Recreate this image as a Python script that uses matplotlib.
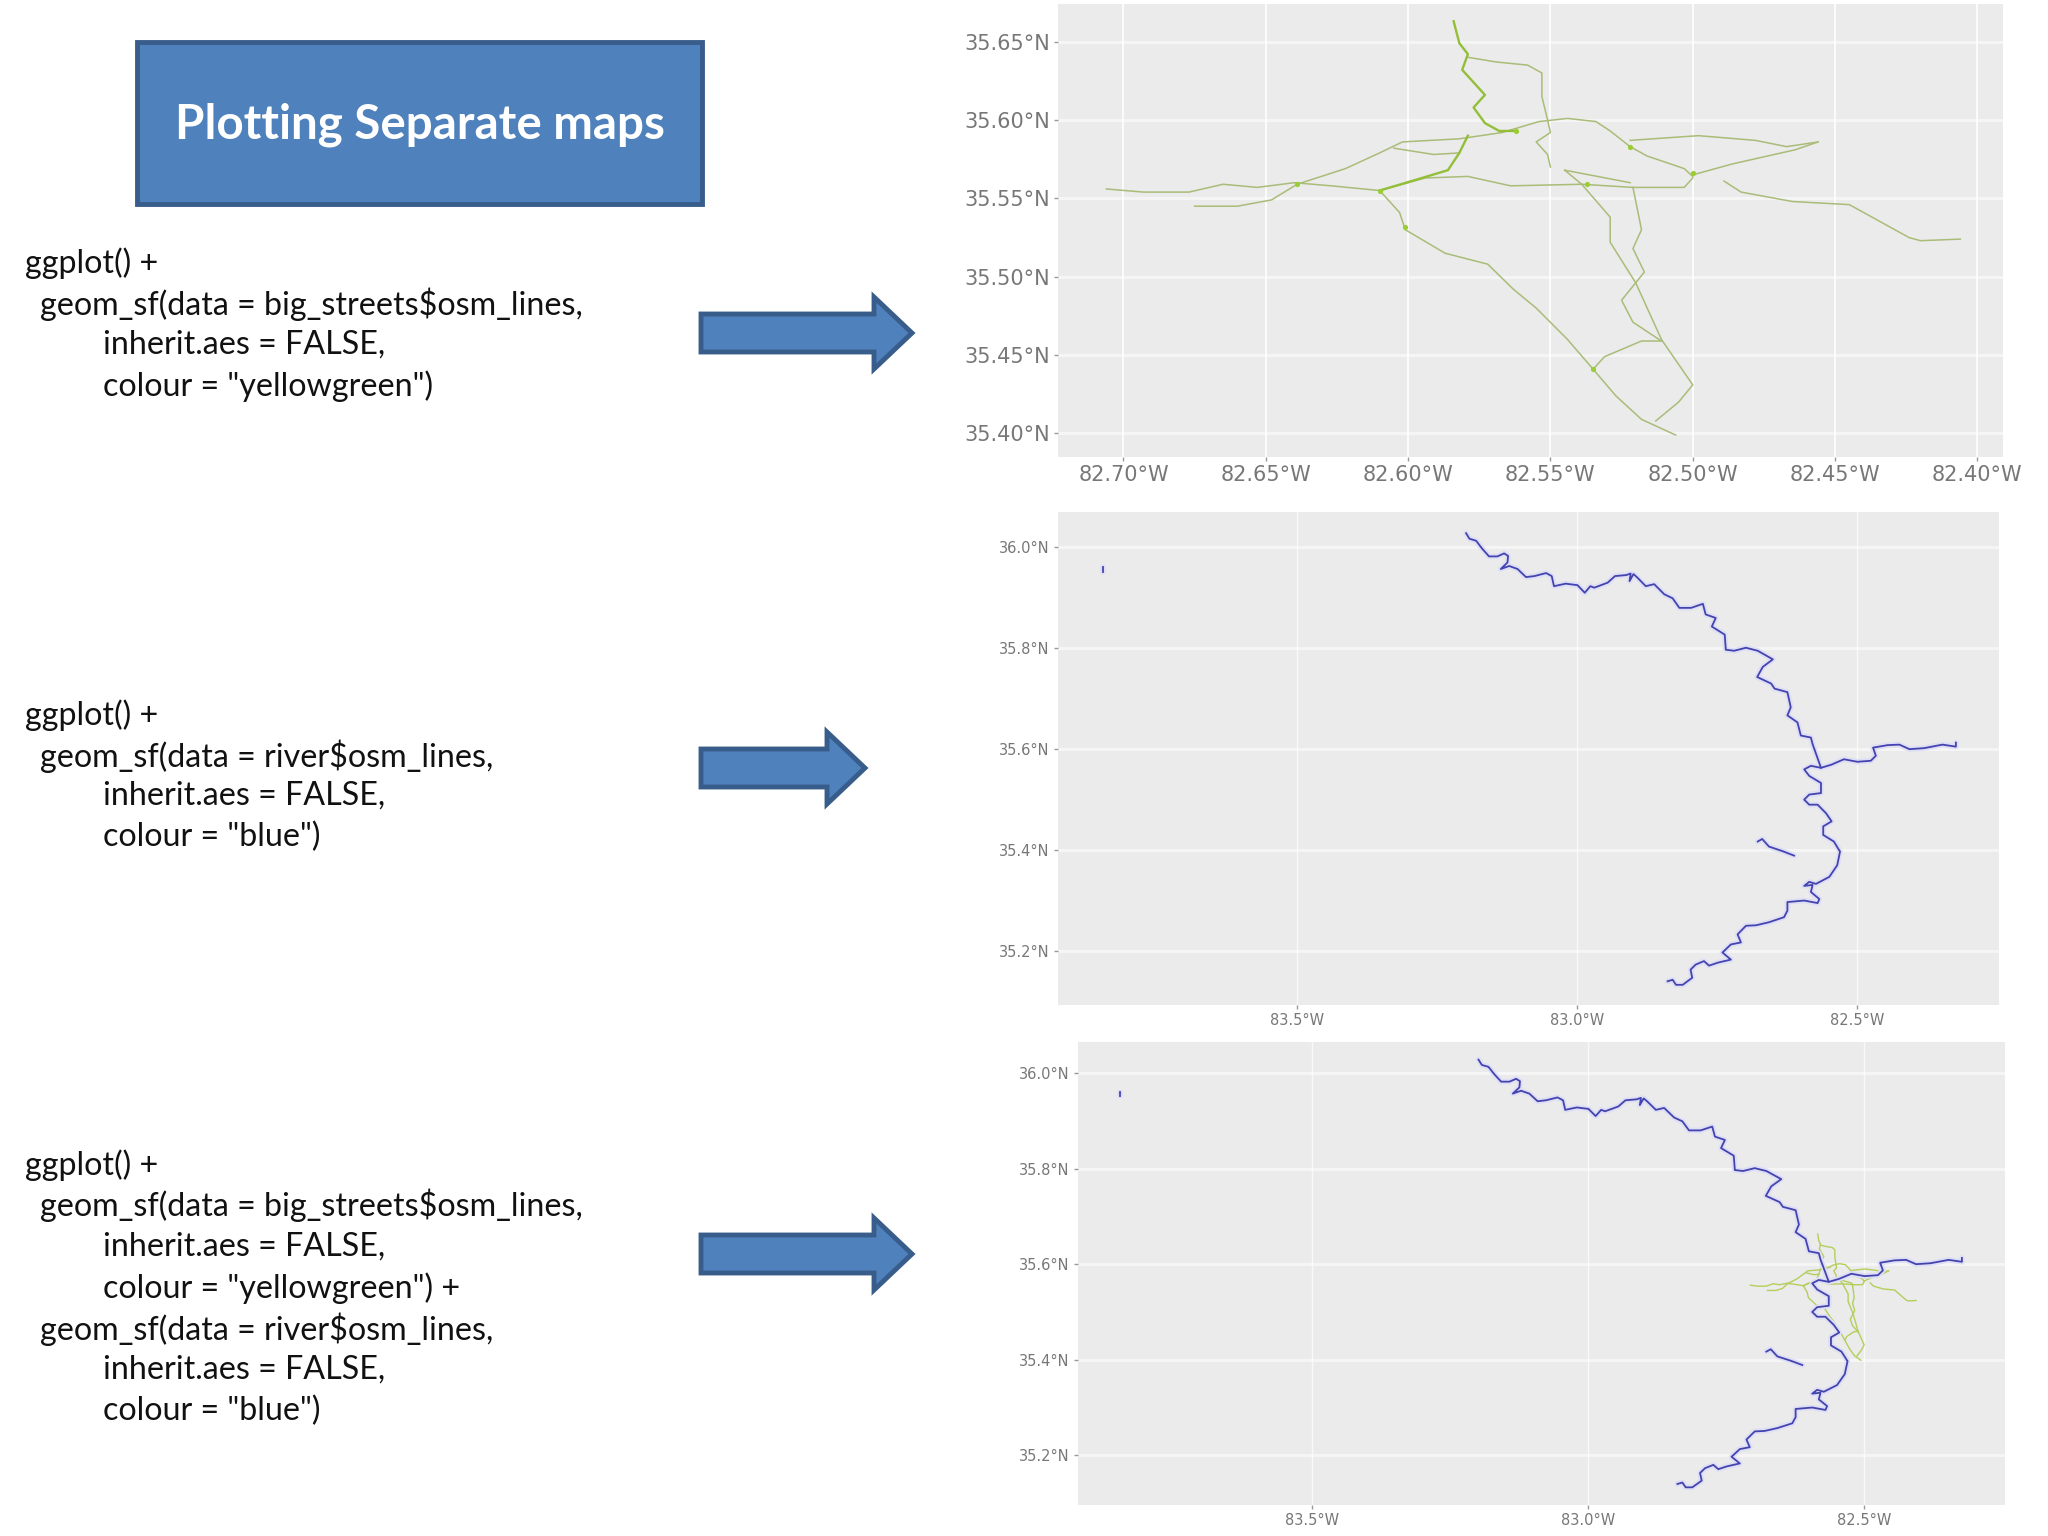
import matplotlib
matplotlib.use("Agg")
import matplotlib.pyplot as plt
from matplotlib.patches import Polygon, Rectangle

# Streets, one lon list and one lat list per road
north_lon = [-82.584, -82.582, -82.579, -82.581, -82.577, -82.573, -82.577, -82.573, -82.568, -82.562]
north_lat = [35.663, 35.649, 35.642, 35.632, 35.624, 35.616, 35.608, 35.598, 35.593, 35.593]
branch_lon = [-82.579, -82.569, -82.558, -82.553, -82.553, -82.551, -82.550, -82.555, -82.551, -82.550]
branch_lat = [35.640, 35.637, 35.635, 35.630, 35.615, 35.600, 35.592, 35.586, 35.578, 35.570]
upper_lon = [-82.639, -82.622, -82.610, -82.602, -82.582, -82.567, -82.554, -82.544, -82.534, -82.529, -82.522, -82.516, -82.503, -82.500]
upper_lat = [35.559, 35.569, 35.579, 35.586, 35.588, 35.592, 35.599, 35.601, 35.599, 35.593, 35.583, 35.577, 35.569, 35.564]
east_lon = [-82.522, -82.498, -82.478, -82.467, -82.456]
east_lat = [35.587, 35.590, 35.587, 35.583, 35.586]
east2_lon = [-82.500, -82.486, -82.464, -82.456]
east2_lat = [35.565, 35.572, 35.581, 35.586]
main_lon = [-82.706, -82.693, -82.677, -82.665, -82.653, -82.640, -82.627, -82.610, -82.594, -82.579, -82.569, -82.564, -82.539, -82.521, -82.503, -82.500]
main_lat = [35.556, 35.554, 35.554, 35.559, 35.557, 35.560, 35.558, 35.555, 35.563, 35.564, 35.560, 35.558, 35.559, 35.557, 35.557, 35.563]
west_lon = [-82.675, -82.660, -82.648, -82.639]
west_lat = [35.545, 35.545, 35.549, 35.559]
south_lon = [-82.610, -82.603, -82.601, -82.587, -82.572, -82.563, -82.555, -82.544, -82.535, -82.527, -82.518, -82.506]
south_lat = [35.555, 35.541, 35.530, 35.515, 35.508, 35.492, 35.480, 35.460, 35.441, 35.424, 35.409, 35.399]
link_lon = [-82.610, -82.597, -82.586, -82.582, -82.579]
link_lat = [35.555, 35.562, 35.568, 35.579, 35.590]
link2_lon = [-82.605, -82.591, -82.582]
link2_lat = [35.582, 35.578, 35.579]
inner_lon = [-82.545, -82.539, -82.529, -82.529, -82.520, -82.511, -82.500, -82.505, -82.513]
inner_lat = [35.568, 35.559, 35.538, 35.522, 35.496, 35.460, 35.431, 35.420, 35.408]
inner2_lon = [-82.521, -82.518, -82.521, -82.517, -82.525, -82.521, -82.511]
inner2_lat = [35.557, 35.530, 35.518, 35.503, 35.485, 35.471, 35.459]
short_lon = [-82.545, -82.522]
short_lat = [35.568, 35.560]
cross_lon = [-82.535, -82.531, -82.518, -82.511]
cross_lat = [35.441, 35.449, 35.459, 35.459]
far_lon = [-82.489, -82.483, -82.465, -82.445, -82.424, -82.420, -82.406]
far_lat = [35.561, 35.554, 35.548, 35.546, 35.525, 35.523, 35.524]
streets = [
    (branch_lon, branch_lat), (upper_lon, upper_lat),
    (east_lon, east_lat), (east2_lon, east2_lat), (main_lon, main_lat),
    (west_lon, west_lat), (south_lon, south_lat),
    (link2_lon, link2_lat), (inner_lon, inner_lat), (inner2_lon, inner2_lat),
    (short_lon, short_lat), (cross_lon, cross_lat), (far_lon, far_lat),
]
# The two roads that show brighter and thicker in the picture
bright_streets = [(north_lon, north_lat), (link_lon, link_lat)]
# Junctions where many roads pile up and the green gets bright
hub_lon = [-82.610, -82.500, -82.639, -82.537, -82.562, -82.522, -82.601, -82.535]
hub_lat = [35.555, 35.566, 35.559, 35.559, 35.593, 35.583, 35.532, 35.441]

# River
river_lon = [-83.198, -83.192, -83.180, -83.169, -83.157, -83.142, -83.130, -83.123, -83.124, -83.136,
             -83.121, -83.106, -83.091, -83.076, -83.055, -83.045, -83.041, -83.020, -82.999, -82.986,
             -82.976, -82.969, -82.945, -82.932, -82.912, -82.904, -82.906, -82.899, -82.892, -82.877,
             -82.862, -82.844, -82.829, -82.817, -82.796, -82.775, -82.770, -82.752, -82.759, -82.736,
             -82.734, -82.719, -82.698, -82.677, -82.650, -82.668, -82.678, -82.653, -82.647, -82.624,
             -82.618, -82.624, -82.606, -82.600, -82.582, -82.579, -82.564, -82.582, -82.594, -82.585,
             -82.564, -82.564, -82.585, -82.594, -82.585, -82.570, -82.555, -82.545, -82.560, -82.560,
             -82.541, -82.530, -82.535, -82.549, -82.573, -82.585, -82.594, -82.579, -82.582, -82.567,
             -82.570, -82.594, -82.624, -82.624, -82.630, -82.657, -82.680, -82.698, -82.713, -82.707,
             -82.725, -82.740, -82.725, -82.748, -82.764, -82.773, -82.788, -82.797, -82.794, -82.811,
             -82.823, -82.829, -82.838]
river_lat = [36.028, 36.017, 36.013, 35.997, 35.982, 35.982, 35.988, 35.983, 35.970, 35.957,
             35.963, 35.957, 35.941, 35.943, 35.949, 35.943, 35.923, 35.928, 35.925, 35.910,
             35.923, 35.920, 35.930, 35.943, 35.945, 35.948, 35.933, 35.947, 35.940, 35.923,
             35.927, 35.907, 35.899, 35.880, 35.880, 35.888, 35.867, 35.860, 35.843, 35.827,
             35.797, 35.795, 35.801, 35.795, 35.778, 35.763, 35.743, 35.730, 35.720, 35.713,
             35.683, 35.667, 35.653, 35.627, 35.623, 35.610, 35.563, 35.567, 35.560, 35.547,
             35.533, 35.513, 35.510, 35.500, 35.490, 35.490, 35.473, 35.457, 35.447, 35.430,
             35.417, 35.397, 35.370, 35.347, 35.333, 35.337, 35.329, 35.331, 35.317, 35.303,
             35.295, 35.300, 35.297, 35.280, 35.267, 35.257, 35.251, 35.250, 35.233, 35.217,
             35.213, 35.197, 35.183, 35.177, 35.171, 35.180, 35.173, 35.163, 35.147, 35.133,
             35.133, 35.143, 35.140]
trib_lon = [-82.564, -82.546, -82.523, -82.499, -82.475, -82.466, -82.471, -82.445, -82.424, -82.406, -82.380, -82.347, -82.323, -82.323]
trib_lat = [35.563, 35.569, 35.580, 35.575, 35.577, 35.587, 35.603, 35.608, 35.609, 35.600, 35.602, 35.609, 35.605, 35.613]
creek_lon = [-82.677, -82.669, -82.657, -82.633, -82.612]
creek_lat = [35.417, 35.422, 35.407, 35.398, 35.389]
speck_lon = [-83.847, -83.847]
speck_lat = [35.961, 35.952]
rivers = [(river_lon, river_lat), (trib_lon, trib_lat), (creek_lon, creek_lat), (speck_lon, speck_lat)]

# Tick labels
lon_fine = [-82.70, -82.65, -82.60, -82.55, -82.50, -82.45, -82.40]
lon_fine_labels = ["82.70°W", "82.65°W", "82.60°W", "82.55°W", "82.50°W", "82.45°W", "82.40°W"]
lat_fine = [35.40, 35.45, 35.50, 35.55, 35.60, 35.65]
lat_fine_labels = ["35.40°N", "35.45°N", "35.50°N", "35.55°N", "35.60°N", "35.65°N"]
lon_wide = [-83.5, -83.0, -82.5]
lon_wide_labels = ["83.5°W", "83.0°W", "82.5°W"]
lat_wide = [35.2, 35.4, 35.6, 35.8, 36.0]
lat_wide_labels = ["35.2°N", "35.4°N", "35.6°N", "35.8°N", "36.0°N"]

# Slide text
title_text = "Plotting Separate maps"
code_streets = ["ggplot() +", ' geom_sf(data = big_streets$osm_lines,', "inherit.aes = FALSE,", 'colour = "yellowgreen")']
code_river = ["ggplot() +", " geom_sf(data = river$osm_lines,", "inherit.aes = FALSE,", 'colour = "blue")']
code_both = ["ggplot() +", " geom_sf(data = big_streets$osm_lines,", "inherit.aes = FALSE,", 'colour = "yellowgreen") +',
             " geom_sf(data = river$osm_lines,", "inherit.aes = FALSE,", 'colour = "blue")']

W, H = 2048, 1536
SHAPE_FILL = "#4F81BD"
SHAPE_EDGE = "#385D8A"
STREET_COLOR = "#A9BC78"
RIVER_COLOR = "#4444AE"

plt.rcParams["font.family"] = ["DejaVu Sans"]
fig = plt.figure(figsize=(W / 100, H / 100), dpi=100, facecolor="white")

# Whole-slide axes in pixels for the box, arrows and code
bg = fig.add_axes([0, 0, 1, 1])
bg.set_xlim(0, W)
bg.set_ylim(H, 0)
bg.axis("off")

bg.add_patch(Rectangle((137, 42), 565, 162, facecolor=SHAPE_FILL, edgecolor=SHAPE_EDGE, linewidth=3.5))
bg.text(419.5, 125, title_text, color="white", fontsize=34.2, fontweight="bold",
        family="Lato", ha="center", va="center")


def draw_arrow(x0, x1, yc):
    head = x1 - 38
    pts = [(x0, yc - 19), (head, yc - 19), (head, yc - 36), (x1, yc), (head, yc + 36), (head, yc + 19), (x0, yc + 19)]
    bg.add_patch(Polygon(pts, closed=True, facecolor=SHAPE_FILL, edgecolor=SHAPE_EDGE, linewidth=3.5))


draw_arrow(701, 912, 333)
draw_arrow(701, 865, 768)
draw_arrow(701, 912, 1254)


def draw_code(lines, ys):
    for line, y in zip(lines, ys):
        if line.startswith("ggplot"):
            x = 25
        elif line.startswith(" "):
            x = 40
        else:
            x = 103
        bg.text(x, y, line.strip(), fontsize=23.2, family="Lato", color="#111111", ha="left", va="center")


draw_code(code_streets, [263, 304, 345, 386])
draw_code(code_river, [715, 756, 796, 837])
draw_code(code_both, [1165, 1205, 1247, 1288, 1329, 1370, 1411])


def map_axes(left, top, right, bottom, xlim, ylim, xticks, xlabels, yticks, ylabels, label_size, v_width, v_alpha):
    ax = fig.add_axes([left / W, 1 - bottom / H, (right - left) / W, (bottom - top) / H])
    ax.set_facecolor("#EBEBEB")
    ax.set_xlim(*xlim)
    ax.set_ylim(*ylim)
    ax.set_xticks(xticks)
    ax.set_xticklabels(xlabels)
    ax.set_yticks(yticks)
    ax.set_yticklabels(ylabels)
    ax.tick_params(axis="both", labelsize=label_size, labelcolor="#777777", color="#999999", length=3, width=1, pad=3)
    ax.grid(axis="x", color="white", linewidth=v_width, alpha=v_alpha)
    ax.grid(axis="y", color="white", linewidth=2.2, alpha=0.5)
    ax.set_axisbelow(True)
    for spine in ax.spines.values():
        spine.set_visible(False)
    return ax


def draw_rivers(ax):
    for lon, lat in rivers:
        ax.plot(lon, lat, color="#DEDEF6", linewidth=4, solid_capstyle="round")
    for lon, lat in rivers:
        ax.plot(lon, lat, color=RIVER_COLOR, linewidth=1.3)


# Top map: streets only
ax1 = map_axes(1058, 4, 2003, 457, (-82.723, -82.391), (35.385, 35.674),
               lon_fine, lon_fine_labels, lat_fine, lat_fine_labels, 15, 1.2, 1.0)
for lon, lat in streets:
    ax1.plot(lon, lat, color=STREET_COLOR, linewidth=1.1, solid_joinstyle="round")
for lon, lat in bright_streets:
    ax1.plot(lon, lat, color="#93BF38", linewidth=1.7, solid_joinstyle="round")
ax1.scatter(hub_lon, hub_lat, s=14, color="#9ACD32", linewidths=0, zorder=3)

# Middle map: river only
ax2 = map_axes(1058, 512, 1999, 1005, (-83.927, -82.246), (35.093, 36.070),
               lon_wide, lon_wide_labels, lat_wide, lat_wide_labels, 10.5, 1.0, 0.7)
draw_rivers(ax2)

# Bottom map: both layers
ax3 = map_axes(1078, 1042, 2005, 1505, (-83.923, -82.245), (35.096, 36.065),
               lon_wide, lon_wide_labels, lat_wide, lat_wide_labels, 10.5, 1.0, 0.7)
for lon, lat in streets + bright_streets:
    ax3.plot(lon, lat, color="#B4CE5C", linewidth=1.0)
draw_rivers(ax3)

fig.savefig("out.png", dpi=100, facecolor="white")
